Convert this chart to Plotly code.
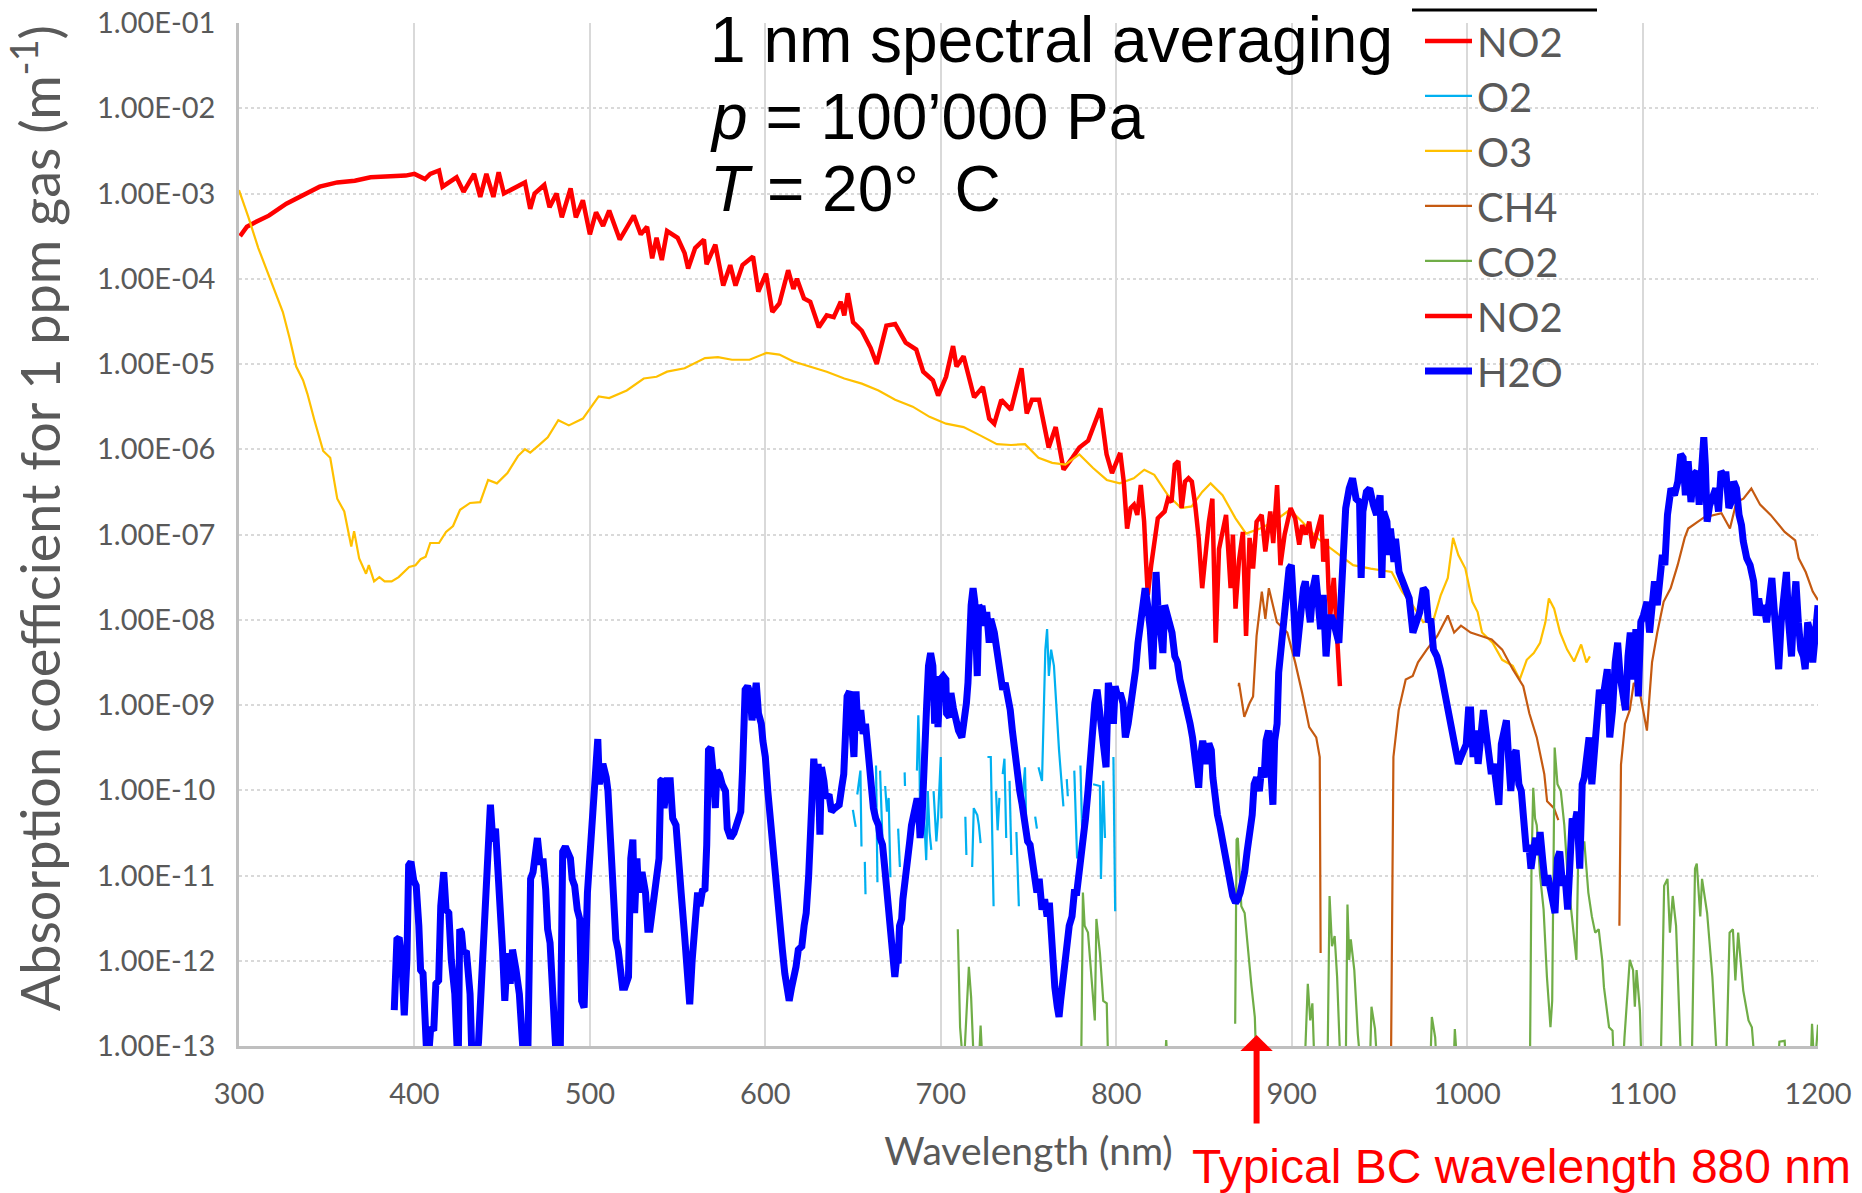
import plotly.graph_objects as go

# wavelength (nm), log10 of absorption coefficient (m^-1); None = gap in the data
no2_a = [(300.6, -3.50), (304.5, -3.39), (309, -3.34), (317, -3.26), (327, -3.12), (336.5, -3.02),
         (346, -2.92), (356, -2.87), (366, -2.85), (375, -2.81), (385, -2.80), (395, -2.79),
         (400, -2.77), (406, -2.83), (409, -2.77), (414, -2.73), (416, -2.92), (424, -2.81),
         (428, -2.98), (434, -2.77), (437.5, -3.04), (441, -2.77), (445, -3.04), (448, -2.75),
         (451, -3.00), (457, -2.94), (463, -2.87), (466, -3.18), (468.5, -3.00), (474, -2.90),
         (477, -3.16), (481, -3.00), (484, -3.28), (489, -2.94), (492, -3.28), (496, -3.08),
         (500, -3.48), (503.5, -3.22), (507.5, -3.38), (511, -3.20), (517, -3.54), (525, -3.26),
         (529, -3.48), (532.6, -3.39), (535.5, -3.76), (538, -3.52), (541, -3.78), (544, -3.44),
         (550, -3.52), (554, -3.70), (556, -3.88), (560, -3.64), (565, -3.54), (566.5, -3.83),
         (571.5, -3.60), (576, -4.08), (580, -3.84), (583, -4.08), (587, -3.84), (593, -3.74),
         (596, -4.15), (600.4, -3.94), (604, -4.39), (608, -4.29), (613, -3.90), (616, -4.12),
         (618, -4.00), (622, -4.23), (625.6, -4.27), (630.5, -4.57), (635, -4.43), (639, -4.45),
         (643, -4.27), (645, -4.43), (647, -4.17), (650, -4.51), (655, -4.61), (660, -4.81),
         (663.5, -5.00), (669, -4.55), (674, -4.53), (680, -4.75), (686, -4.83), (690, -5.09),
         (695.5, -5.19), (698.5, -5.37), (703, -5.15), (707, -4.79), (709, -5.03), (713, -4.91),
         (719, -5.39), (724, -5.27), (727.6, -5.64), (730.5, -5.70), (734.5, -5.42), (740, -5.54),
         (746, -5.05), (749, -5.58), (752, -5.42), (756, -5.42), (761.5, -5.98), (765.5, -5.74),
         (770, -6.24), (775, -6.10), (779, -5.98), (784, -5.90), (791, -5.52), (794.5, -6.06),
         (797.6, -6.28), (802.3, -6.04)]

no2_b = [(802.3, -6.04), (804.3, -6.38), (806.2, -6.93), (808.2, -6.69), (810.1, -6.65), (812, -6.77),
         (814, -6.42), (815.9, -6.85), (817, -7.32), (818, -7.71), (820, -7.35), (822, -7.05),
         (823.7, -6.81), (825.6, -6.77), (827.6, -6.73), (829.5, -6.58), (831.5, -6.62), (833.4, -6.18),
         (835.4, -6.14), (837.3, -6.69), (839.2, -6.38), (841.2, -6.34), (843.1, -6.38), (845, -6.65),
         (847, -7.04), (849, -7.63), (851, -7.17), (852.8, -6.85), (854.8, -6.58), (856.7, -8.27),
         (858.6, -7.17), (862.6, -6.77), (865.2, -7.63), (866.5, -7.00), (868, -7.87), (870, -7.30),
         (872.2, -6.97), (874, -8.19), (876, -7.04), (878, -7.40), (880, -6.85), (882.9, -6.77),
         (885, -7.20), (887.8, -6.73), (889.5, -7.10), (891.7, -6.42), (893.6, -7.36), (896, -7.00),
         (899.4, -6.69), (902, -6.81), (904.3, -7.12), (906, -6.89), (908, -7.00), (910, -6.85),
         (912, -7.16), (914, -7.01), (917, -6.77), (918, -7.32), (920, -7.05), (921, -7.63),
         (922, -7.95), (924, -7.51), (926, -8.23), (927.5, -8.78)]

o2 = [(649.9, -10.23), (651.5, -10.43), None, (652.4, -10.05), (654.2, -9.77), (654.8, -10.66), None,
      (656.7, -10.84), (657.1, -11.22), None, (663.1, -9.71), (663.9, -11.08), None,
      (665.4, -9.77), (666.4, -10.41), (667.4, -10.96), None,
      (668.3, -9.95), (669.3, -10.25), (670.3, -10.09), (671.3, -11.02), None,
      (675.7, -10.45), (676.7, -10.90), None, (679.4, -9.79), (679.6, -9.95), None,
      (686.4, -9.77), (687.2, -9.12), (687.8, -9.53), (688.3, -10.49), None,
      (689.3, -9.79), (691.7, -10.82), (692.6, -10.01), (693.6, -10.49), (694.6, -10.70), None,
      (695.9, -10.01), (697.5, -10.60), (698.4, -10.33), (700.0, -9.61), (700.4, -10.33), None,
      (714.0, -10.31), (714.6, -10.76), None,
      (717.9, -10.90), (718.8, -10.21), (720.8, -10.29), (721.7, -10.41), (722.7, -10.62), None,
      (726.6, -9.61), (728.5, -9.61), (730.1, -11.36), None,
      (731.5, -10.01), (732.4, -10.47), (733.4, -10.09), None,
      (735.3, -9.81), (736.3, -9.63), (737.3, -10.56), None, (739.2, -9.89), (740.2, -10.76), None,
      (743.1, -10.49), (744.5, -11.36), None, (746.0, -10.25), (748.0, -9.73), (748.9, -10.60), None,
      (753.8, -10.31), (754.8, -10.45), None,
      (755.7, -9.73), (757.7, -9.89), (759.6, -8.35), (760.6, -8.11), (761.6, -8.66), (762.9, -8.35),
      (764.5, -8.54), (767.4, -9.53), (769.9, -10.19), None,
      (771.8, -9.87), (772.4, -10.07), None, (776.1, -9.77), (777.7, -10.80), None,
      (779.6, -9.71), (781.0, -10.80), None,
      (786.8, -9.93), (790.7, -9.95), (791.3, -11.04), (792.6, -9.89), (793.6, -10.56), None,
      (798.4, -9.61), (799.4, -11.42)]

o3 = [(300, -2.96), (305.4, -3.28), (311, -3.64), (317, -3.96), (321, -4.19), (325, -4.39),
      (329, -4.71), (332.6, -5.03), (336.5, -5.19), (339, -5.35), (343, -5.66), (348, -6.02),
      (352, -6.10), (356, -6.58), (360, -6.73), (364, -7.14), (365.6, -6.96), (368.5, -7.28),
      (372.4, -7.46), (374, -7.36), (377, -7.55), (380, -7.50), (383, -7.55), (387, -7.55),
      (391, -7.50), (394, -7.44), (397, -7.38), (400.6, -7.36), (403.5, -7.29), (406.4, -7.26),
      (409, -7.10), (414, -7.10), (418, -6.97), (422, -6.90), (426, -6.71), (431.7, -6.63),
      (437.5, -6.62), (442, -6.36), (447, -6.40), (453, -6.28), (459, -6.08), (463, -6.00),
      (466, -6.04), (470.5, -5.96), (476, -5.86), (482, -5.66), (488, -5.72), (496, -5.64),
      (500.6, -5.50), (505, -5.38), (511, -5.40), (521, -5.31), (530.7, -5.17), (538, -5.15),
      (544, -5.09), (554, -5.05), (565.6, -4.93), (573, -4.92), (581, -4.95), (591, -4.95),
      (600.6, -4.87), (608, -4.89), (616, -4.97), (625.6, -5.03), (635, -5.09), (645, -5.17),
      (655, -5.23), (664.5, -5.31), (674, -5.42), (684, -5.50), (693.6, -5.62), (703, -5.70),
      (713, -5.74), (722.7, -5.84), (732, -5.94), (740, -5.95), (748, -5.94), (755.7, -6.10),
      (763.5, -6.16), (771, -6.18), (779, -6.06), (786.8, -6.22), (794.6, -6.36), (802, -6.40),
      (810, -6.34), (816, -6.24), (821.7, -6.30), (829.5, -6.54), (837, -6.69), (843, -6.67),
      (849, -6.50), (853.8, -6.40), (860.6, -6.54), (868, -6.81), (874, -6.99), (882, -6.93),
      (889.7, -6.85), (899, -6.71), (906, -6.85), (915, -7.05), (925, -7.20), (935, -7.36),
      (945, -7.40), (957, -7.44), (963, -7.67), (969, -7.83), (975, -8.03), (981, -7.99),
      (985, -7.71), (989, -7.51), (992, -7.04), (995, -7.24), (999, -7.40), (1003, -7.79),
      (1006, -7.91), (1008.5, -8.15), (1014.5, -8.27), (1020, -8.47), (1026, -8.54), (1030, -8.70),
      (1034, -8.47), (1038, -8.39), (1041.6, -8.27), (1044.6, -8.03), (1046.6, -7.75), (1049.6, -7.87),
      (1053, -8.15), (1057, -8.35), (1061, -8.49), (1065, -8.29), (1068, -8.50), (1070, -8.43)]

ch4 = [(869.8, -8.78), (870, -8.74), (873, -9.14), (876, -8.98), (878, -8.90), (880, -8.19),
       (883, -7.67), (885, -7.99), (887, -7.63), (891.6, -8.03), (897.5, -8.15), (902, -8.50),
       (906, -8.86), (910, -9.26), (914, -9.38), (916, -9.61), (916.5, -11.91), None,
       (956.5, -13.5), (958, -9.61), (961, -9.06), (965, -8.70), (969, -8.66), (972, -8.50),
       (977, -8.35), (983, -8.19), (989, -7.95), (992.6, -8.15), (996.5, -8.07), (1002, -8.15),
       (1008, -8.19), (1014, -8.23), (1020, -8.35), (1026, -8.58), (1032, -8.78), (1035.5, -9.10),
       (1039.7, -9.38), (1042, -9.61), (1044, -9.81), (1045.6, -10.13), (1049.5, -10.21),
       (1052, -10.35), None,
       (1086.8, -11.59), (1087.7, -9.70), (1090, -9.22), (1092.7, -9.06), (1095, -8.74),
       (1098.5, -8.86), (1102.5, -9.30), (1105.4, -8.50), (1108.4, -8.15), (1112, -7.79),
       (1116, -7.63), (1120, -7.36), (1124, -7.04), (1126, -6.93), (1135, -6.80), (1145, -6.75),
       (1149.8, -6.93), (1153.5, -6.62), (1157.5, -6.58), (1162, -6.46), (1167, -6.65),
       (1173, -6.77), (1181, -6.97), (1187, -7.07), (1189, -7.28), (1193, -7.44), (1197, -7.67),
       (1200, -7.77)]

co2 = [(709.7, -11.63), (711, -12.78), (713, -13.3), (715, -12.5), (716, -12.07), (717.3, -12.43),
       (719, -13.3), (721.5, -13.3), (722.7, -12.76), (724, -13.3), (780, -13.3),
       (781, -11.20), (782, -11.59), (783.9, -11.67), (785.8, -12.19), (787.8, -12.70),
       (788.7, -11.51), (790.7, -11.91), (792.6, -12.47), (794.6, -12.50), (795.5, -13.3),
       (827.5, -13.3), (828.5, -12.93), (829.5, -13.3), None,
       (867.8, -12.74), (868.6, -10.58), (869.3, -10.56), (871.3, -11.36), (873.2, -11.44),
       (875.1, -11.91), (877.1, -12.30), (879, -12.66), (880, -13.3),
       (907.3, -13.3), (909.2, -12.27), (910.6, -12.70), (911.8, -12.50), (913.1, -13.3),
       (920.4, -13.3), (921.6, -11.24), (923, -11.83), (924.5, -11.71), (925.9, -12.19), (927.9, -13.3),
       (930.8, -13.3), (931.8, -11.34), (932.8, -11.99), (933.7, -11.75), (935.7, -12.11),
       (937.7, -12.86), (939.6, -13.3), (944.5, -13.3), (945.5, -12.54), (947.5, -12.80), (949, -13.3),
       (978.9, -13.3), (979.9, -12.66), (981.8, -12.90), (982.8, -13.3),
       (992.2, -13.3), (993, -12.80), (994.6, -13.3),
       (1035.8, -13.3), (1036.7, -10.88), (1037.7, -9.97), (1038.7, -10.33), (1039.7, -10.41),
       (1041.6, -11.00), (1043.6, -11.40), (1045.5, -12.19), (1047.5, -12.78), (1048.5, -12.47),
       (1049.1, -10.80), (1049.9, -9.50), (1051.5, -9.93), (1053.4, -10.01), (1055.4, -10.41),
       (1057.3, -11.00), (1059.3, -11.40), (1062.3, -11.99), (1063.2, -10.92), (1066.8, -10.60),
       (1069.1, -11.20), (1071.1, -11.48), (1073, -11.67), (1075, -11.63), (1077, -11.99),
       (1078, -12.31), (1080.9, -12.78), (1082.9, -12.82), (1083.8, -13.3),
       (1088.7, -13.3), (1089.7, -12.90), (1092.7, -11.99), (1094.6, -12.11), (1095.6, -12.54),
       (1096.6, -12.11), (1098.5, -12.59), (1099.5, -13.3),
       (1110.3, -13.3), (1112.3, -11.12), (1114.2, -11.04), (1115.6, -11.67), (1117.2, -11.24),
       (1119.1, -11.59), (1122.1, -13.3),
       (1128, -13.3), (1129.9, -10.92), (1130.9, -10.86), (1132.9, -11.48), (1133.9, -11.04),
       (1136.8, -11.44), (1139.8, -12.19), (1142.7, -13.3),
       (1147.6, -13.3), (1149.6, -11.67), (1151.5, -11.63), (1152.9, -12.23), (1154.5, -11.67),
       (1157.4, -12.35), (1160.4, -12.70), (1162.3, -12.78), (1164.3, -13.3),
       (1177, -13.3), (1178, -12.95), (1181, -12.94), (1182, -13.3),
       (1195.7, -13.3), (1196.6, -12.74), (1198, -13.3), (1200, -12.75)]

h2o = [(388.5, -12.58), (390, -11.75), (391.3, -11.73), (392.8, -11.99), (394.2, -12.64), (395.7, -11.99),
       (396.7, -10.88), (398, -10.84), (399.6, -11.06), (401, -11.12), (402.5, -11.59), (403.5, -12.11),
       (404.9, -12.15), (406, -12.86), (407.4, -13.3), (409.3, -12.78), (411, -12.82), (412.2, -12.27),
       (413.8, -12.23), (415, -11.36), (416.7, -10.96), (418, -11.40), (419.6, -11.44), (421, -11.99),
       (423, -12.39), (424.9, -13.3), (425.8, -11.63), (426.8, -11.67), (427.8, -11.89), (429.7, -11.91),
       (431.7, -12.39), (433, -13.3), (434.6, -13.3), (436.5, -12.96), (438.4, -12.19), (439.8, -11.59),
       (441.4, -10.80), (442.3, -10.21), (443.3, -10.17), (444.7, -10.60), (446.2, -10.45), (447.2, -10.80),
       (448.5, -11.20), (450.1, -11.83), (451.5, -12.47), (453, -11.91), (454.6, -12.27), (455.9, -11.87),
       (457.9, -12.11), (459.8, -12.39), (461.7, -13.0), (463.1, -13.3), (464.7, -13.0), (466.2, -11.04),
       (467.6, -10.96), (469, -10.60), (470.1, -10.56), (471.5, -10.84), (473.4, -10.84), (474.8, -11.16),
       (475.9, -11.63), (477.3, -11.79), (479.2, -12.39), (481.2, -13.3), (483.1, -13.1), (484.5, -10.72),
       (486, -10.66), (487.6, -10.76), (488.9, -10.80), (489.9, -11.04), (491.3, -11.12), (492.8, -11.40),
       (494.2, -11.51), (495.3, -12.47), (496.7, -12.55), (498.6, -11.20), (500.6, -10.60), (501.9, -10.21),
       (503.1, -9.61), (504.5, -9.40), (505.4, -9.93), (507.4, -9.69), (509.3, -9.85), (510.3, -10.01),
       (511.8, -10.60), (513.2, -11.20), (514.8, -11.75), (516.1, -11.87), (517.1, -12.07), (518.6, -12.31),
       (520, -12.31), (522, -12.19), (523.3, -10.80), (524.5, -10.58), (525.5, -11.44), (526.8, -10.80),
       (527.8, -11.20), (529.7, -10.96), (531.7, -11.20), (533, -11.63), (534.2, -11.63), (535.5, -11.40),
       (537.5, -11.20), (539.4, -10.80), (540.4, -9.89), (541.4, -9.87), (542.3, -10.21), (543.9, -9.89),
       (545.8, -9.89), (547.2, -10.33), (549.1, -10.41), (550.1, -10.80), (552, -11.20), (554, -11.71),
       (555.9, -12.19), (556.9, -12.51), (558.3, -11.99), (559.8, -11.48), (561.4, -11.20), (562.7, -11.36),
       (564.1, -11.18), (565.6, -11.16), (566.6, -10.64), (567.6, -9.53), (568.9, -9.50), (570.5, -9.85),
       (571.5, -10.21), (572.4, -9.77), (573.8, -9.81), (575.4, -9.93), (577.3, -10.01), (578.3, -10.45),
       (580.2, -10.56), (582.1, -10.50), (584.1, -10.33), (586, -10.25), (587, -9.77), (588.5, -8.82),
       (589.9, -8.78), (591.3, -8.86), (592.4, -9.18), (593.8, -8.78), (594.8, -8.74), (596.1, -9.10),
       (597.7, -9.22), (598.6, -9.42), (600, -9.61), (601.4, -10.01), (602.7, -10.33), (603.9, -10.64),
       (605.2, -11.0), (606.6, -11.32), (608.2, -11.59), (609.7, -11.87), (611.1, -12.15), (612.4, -12.35),
       (613.6, -12.47), (615, -12.31), (615.9, -12.23), (617.5, -12.07), (618.8, -11.87), (620.8, -11.83),
       (622.1, -11.59), (623.3, -11.44), (624.7, -11.0), (625.6, -10.41), (626.6, -9.85), (627.6, -9.63),
       (628.9, -9.93), (630.1, -9.69), (631.1, -10.52), (632, -9.73), (633.4, -9.89), (634.4, -10.09),
       (636.3, -10.05), (637.7, -10.25), (639.6, -10.21), (642.1, -10.17), (643.5, -9.97), (644.7, -9.81),
       (645.6, -9.38), (646.6, -8.90), (648, -8.84), (649.3, -9.22), (650.5, -9.61), (651.7, -8.84),
       (652.8, -9.30), (654.4, -9.06), (655.7, -9.34), (657.1, -9.22), (658.6, -9.61), (660.2, -9.85),
       (661.6, -10.21), (662.9, -10.33), (664.5, -10.41), (665.4, -10.56), (666.8, -10.64), (668.3, -10.96),
       (669.9, -11.36), (671.3, -11.48), (672.2, -11.79), (673.2, -12.07), (673.8, -12.19), (674.8, -11.99),
       (675.7, -12.03), (676.5, -11.59), (677.7, -11.51), (678.4, -11.28), (679.6, -11.0), (681, -10.80),
       (682.3, -10.60), (683.3, -10.41), (684.9, -10.25), (686.2, -10.13), (687.2, -10.13), (688.2, -10.56),
       (689.3, -10.33), (690.7, -9.81), (692, -8.98), (693, -8.54), (694.2, -8.39), (695.5, -8.54),
       (696.5, -9.22), (697.5, -8.66), (698.4, -9.26), (699.8, -8.70), (701.4, -8.66), (702.9, -8.70),
       (703.3, -9.10), (704.9, -9.14), (705.8, -8.86), (707.2, -9.04), (708.7, -9.22), (710.1, -9.30),
       (712, -9.38), (713.4, -9.22), (714.6, -8.98), (715.5, -8.74), (716.5, -8.15), (717.3, -7.83),
       (718.4, -7.63), (719.4, -7.79), (720.8, -8.66), (721.7, -7.83), (722.7, -7.87), (723.7, -7.87),
       (725, -8.07), (726.2, -7.91), (727.6, -8.27), (728.5, -7.99), (730.5, -8.15), (731.5, -8.27),
       (732.4, -8.50), (734, -8.58), (735.3, -8.82), (736.7, -8.74), (738.3, -8.90), (739.6, -9.06),
       (740.8, -9.30), (742.1, -9.53), (743.5, -9.85), (745, -10.01), (746.4, -10.17), (748, -10.41),
       (749.5, -10.60), (750.9, -10.64), (751.8, -10.80), (753.4, -11.0), (754.8, -11.20), (756.1, -11.04),
       (757.7, -11.40), (759.2, -11.28), (760.6, -11.48), (761.9, -11.32), (763.1, -11.79), (764.1, -11.99),
       (765, -12.31), (766.4, -12.54), (767.4, -12.66), (768.3, -12.47), (769.3, -12.31), (770.3, -11.99),
       (771.3, -11.91), (772.2, -11.75), (773.2, -11.59), (774.8, -11.48), (776.1, -11.20), (777.5, -11.20),
       (778.6, -11.04), (780, -10.80), (781, -10.60), (782.5, -10.33), (783.9, -10.01), (784.9, -9.69),
       (786.4, -9.22), (787.8, -8.98), (789.1, -8.82), (790.3, -9.06), (791.7, -9.18), (793, -9.61),
       (794.2, -9.73), (795.5, -8.74), (796.9, -8.90), (798.4, -9.22), (799.4, -8.78), (800.8, -8.90),
       (802.3, -8.86), (803.9, -8.98), (805.2, -9.38), (806.8, -9.22), (808.2, -9.02), (809.5, -8.86),
       (811.1, -8.58), (812.4, -8.27), (814, -7.99), (815.5, -7.75), (816.5, -7.63), (817.9, -7.83),
       (819.4, -8.11), (820.8, -8.58), (821.7, -8.03), (822.7, -7.44), (823.7, -7.83), (825, -8.19),
       (826.6, -8.39), (827.6, -7.83), (829.1, -7.95), (830.5, -8.03), (831.8, -8.15), (833.4, -8.43),
       (834.9, -8.50), (836.3, -8.70), (837.7, -8.82), (839.2, -8.90), (840.8, -9.06), (842.1, -9.22),
       (843.5, -9.38), (845, -9.61), (846, -9.85), (847, -9.97), (848, -9.61), (849.3, -9.42),
       (850.5, -9.57), (851.7, -9.69), (852.8, -9.45), (854.2, -9.53), (855.1, -9.85), (856.3, -10.13),
       (857.7, -10.29), (859, -10.41), (860.6, -10.60), (862.1, -10.80), (863.5, -11.0), (864.9, -11.12),
       (866.4, -11.24), (868, -11.32), (869.3, -11.28), (870.7, -11.20), (871.8, -11.12), (873.2, -10.96),
       (874.6, -10.72), (876.1, -10.49), (877.5, -10.29), (878.6, -9.93), (880, -9.85), (881.6, -10.01),
       (882.9, -9.73), (884.3, -9.85), (885.4, -9.42), (886.8, -9.30), (888.2, -10.09), (889.3, -10.17),
       (890.3, -9.42), (891.7, -9.22), (892.6, -8.62), (894, -8.35), (895.5, -8.03), (897.1, -7.63),
       (898.5, -7.40), (899.8, -7.36), (900.9, -7.83), (901.4, -8.15), (902.7, -8.43), (903.9, -8.19),
       (905.3, -7.87), (906.7, -7.63), (907.8, -7.55), (909.2, -7.83), (910.6, -8.03), (912.2, -7.63),
       (913.7, -7.48), (915.1, -7.79), (916.5, -8.11), (918, -7.71), (919.6, -8.43), (921, -8.03),
       (922.4, -7.95), (923.9, -8.03), (925.5, -8.19), (926.9, -8.27), (927.9, -7.87), (928.8, -7.36),
       (929.8, -6.92), (930.8, -6.69), (932.8, -6.46), (934.7, -6.34), (936.7, -6.58), (938.7, -6.62),
       (939.6, -7.51), (940.6, -6.73), (942.6, -6.50), (944.5, -6.46), (946.5, -6.65), (948.4, -6.77),
       (950.4, -6.54), (951.4, -7.51), (952.4, -6.73), (954.3, -6.85), (955.3, -7.24), (956.3, -6.93),
       (958.3, -7.32), (959.2, -7.05), (961.2, -7.44), (964.1, -7.59), (967, -7.75), (969.1, -8.15),
       (971, -8.03), (973, -7.91), (975, -7.63), (976.5, -7.67), (977.9, -8.03), (979.3, -7.99),
       (980.8, -8.35), (982.8, -8.43), (984.7, -8.58), (986.3, -8.74), (987.7, -8.90), (989, -9.10),
       (990.6, -9.22), (992.2, -9.38), (993.6, -9.53), (995, -9.69), (996.5, -9.61), (998.1, -9.53),
       (999.5, -9.46), (1000.8, -9.06), (1002, -9.06), (1003.4, -9.61), (1004.8, -9.30), (1006.3, -9.69),
       (1007.9, -9.38), (1009.3, -9.06), (1010.7, -9.30), (1012.2, -9.61), (1013.8, -9.81), (1015.2, -9.69),
       (1016.7, -9.93), (1018.1, -10.17), (1019.5, -9.46), (1021, -9.30), (1022.4, -9.18), (1023.6, -9.61),
       (1024.9, -10.01), (1026.3, -9.61), (1027.9, -9.53), (1029.5, -9.93), (1030.9, -10.01), (1032.2, -10.33),
       (1033.8, -10.72), (1035.2, -10.64), (1036.4, -10.92), (1037.7, -10.72), (1039.1, -10.56), (1040.5, -10.76),
       (1041.6, -10.49), (1043.2, -10.84), (1044.6, -11.12), (1046, -11.0), (1047.5, -11.20), (1048.9, -11.36),
       (1050.1, -11.44), (1051.5, -10.80), (1052.8, -10.72), (1054.4, -11.12), (1055.8, -11.0), (1057.3, -11.40),
       (1058.7, -10.80), (1059.9, -10.33), (1061.3, -10.41), (1062.6, -10.25), (1064.2, -10.92), (1065.6, -9.93),
       (1066.8, -9.85), (1068.1, -9.53), (1069.5, -9.38), (1071.1, -9.93), (1072.5, -9.61), (1074, -9.06),
       (1075.4, -8.82), (1077, -8.98), (1078.5, -8.70), (1079.9, -8.58), (1081.3, -9.38), (1082.9, -9.06),
       (1084.4, -8.50), (1085.8, -8.27), (1087.2, -8.66), (1088.7, -8.90), (1090.3, -9.06), (1091.7, -8.43),
       (1093, -8.15), (1094.6, -8.70), (1096.2, -8.11), (1097.6, -8.90), (1099, -8.03), (1100.5, -7.95),
       (1102.5, -7.79), (1104, -8.15), (1105.4, -7.71), (1106.8, -7.55), (1108.4, -7.83), (1109.9, -7.59),
       (1111.3, -7.24), (1112.7, -7.36), (1114.2, -6.77), (1116.2, -6.46), (1118.2, -6.54), (1120.1, -6.38),
       (1121.7, -6.06), (1123.1, -6.10), (1124.4, -6.54), (1126, -6.14), (1127.6, -6.62), (1129, -6.30),
       (1130.9, -6.26), (1132.3, -6.65), (1133.5, -6.14), (1134.9, -5.86), (1135.8, -6.18), (1136.8, -6.85),
       (1138.2, -6.66), (1139.8, -6.54), (1141.7, -6.46), (1143.3, -6.73), (1144.7, -6.26), (1146.1, -6.30),
       (1147.6, -6.30), (1149.2, -6.69), (1150.5, -6.62), (1151.9, -6.38), (1153.5, -6.46), (1155, -6.77),
       (1156.4, -6.89), (1157.4, -7.08), (1159.4, -7.28), (1161.3, -7.36), (1163.3, -7.55), (1164.9, -7.95),
       (1166.2, -7.75), (1167.6, -7.95), (1169.2, -7.83), (1170.7, -8.03), (1172.1, -7.79), (1173.7, -7.51),
       (1175, -7.87), (1176.6, -8.23), (1177.6, -8.58), (1179, -8.03), (1180.4, -7.71), (1182, -7.44),
       (1183.3, -8.03), (1184.9, -8.43), (1186.3, -7.83), (1187.4, -7.55), (1188.8, -8.03), (1190.2, -8.35),
       (1191.7, -8.43), (1192.7, -8.58), (1194.1, -8.03), (1195.7, -8.15), (1197, -8.50), (1198.6, -8.03),
       (1200, -7.83)]

y_exponents = list(range(-1, -14, -1))
y_ticktext = ["1.00E-%02d" % (-e) for e in y_exponents]

grey_txt = "#595959"
calibri = "Lato, 'Open Sans', sans-serif"
arial = "'Liberation Sans', Arial, sans-serif"

# the page puts the figure 8 px in from the top-left corner of the window
OFF = 8
# plot area in window pixels (left, right, top, bottom)
L, R, T, B = 239, 1818, 22.6, 1046


def px_x(px):
    return (px - L) / (R - L)


def px_y(py):
    return 1 - (py - T) / (B - T)


def split(pts):
    xs, ys = [], []
    for p in pts:
        if p is None:
            xs.append(None)
            ys.append(None)
        else:
            xs.append(p[0])
            ys.append(10 ** p[1])
    return xs, ys


series = [
    ("NO2", no2_a, "#FF0000", 4.5),
    ("O2", o2, "#00B0F0", 2.2),
    ("O3", o3, "#FFC000", 2.2),
    ("CH4", ch4, "#C55A11", 2.2),
    ("CO2", co2, "#70AD47", 2.2),
    ("NO2", no2_b, "#FF0000", 4.5),
    ("H2O", h2o, "#0000FF", 7),
]

fig = go.Figure()
for name, pts, color, w in series:
    xs, ys = split(pts)
    fig.add_trace(go.Scatter(x=xs, y=ys, name=name, mode="lines",
                             line=dict(color=color, width=w), connectgaps=False))

fig.update_layout(
    width=1862 - OFF, height=1193 - OFF,
    margin=dict(l=L - OFF, r=1862 - R, t=T - OFF, b=1193 - B, autoexpand=False),
    paper_bgcolor="white", plot_bgcolor="white",
    showlegend=True,
    legend=dict(x=px_x(1420), xanchor="left", y=px_y(8), yanchor="top",
                bgcolor="rgba(0,0,0,0)", font=dict(family=calibri, size=40, color=grey_txt),
                itemwidth=47, tracegroupgap=0),
)

fig.update_xaxes(
    range=[300, 1200], tick0=300, dtick=100, automargin=False,
    showgrid=True, gridcolor="#D9D9D9", gridwidth=2,
    showline=True, linecolor="#BFBFBF", linewidth=2.5,
    ticks="", zeroline=False, ticklabelstandoff=20, ticklabeloverflow="allow",
    tickfont=dict(family=calibri, size=29, color=grey_txt),
    title=dict(text="Wavelength (nm)", font=dict(family=calibri, size=39, color=grey_txt), standoff=30),
)
fig.update_yaxes(
    type="log", range=[-13, -1], automargin=False,
    tickvals=[10 ** e for e in y_exponents], ticktext=y_ticktext,
    showgrid=True, gridcolor="#D9D9D9", gridwidth=2, griddash="dot",
    showline=True, linecolor="#BFBFBF", linewidth=2.5,
    ticks="", zeroline=False, ticklabelstandoff=15, ticklabeloverflow="allow",
    tickfont=dict(family=calibri, size=29, color=grey_txt),
)

# y-axis title, placed a little above the axis centre as in the original
fig.add_annotation(text="Absorption coefficient for 1 ppm gas (m<sup>-1</sup>)",
                   xref="paper", yref="paper", x=px_x(37), y=px_y(518),
                   xanchor="center", yanchor="middle", textangle=-90, showarrow=False,
                   font=dict(family=calibri, size=54, color=grey_txt))

# condition text in the top part of the plot
fig.add_annotation(text="1 nm spectral averaging", xref="paper", yref="paper",
                   x=px_x(708), y=px_y(40), xanchor="left", yanchor="middle", showarrow=False,
                   font=dict(family=arial, size=64, color="black"))
fig.add_annotation(text="<i>p</i> = 100\u2019000 Pa", xref="paper", yref="paper",
                   x=px_x(708), y=px_y(117), xanchor="left", yanchor="middle", showarrow=False,
                   font=dict(family=arial, size=64, color="black"))
fig.add_annotation(text="<i>T</i> = 20\u00b0\u00a0\u00a0C", xref="paper", yref="paper",
                   x=px_x(708), y=px_y(189), xanchor="left", yanchor="middle", showarrow=False,
                   font=dict(family=arial, size=64, color="black"))

# arrow marking the typical black carbon wavelength
fig.add_annotation(x=880, y=-12.87, xref="x", yref="y", ax=0, ay=90, text="",
                   showarrow=True, arrowhead=1, arrowsize=0.9, arrowwidth=6, arrowcolor="#FF0000")
fig.add_annotation(text="Typical BC wavelength 880 nm", xref="paper", yref="paper",
                   x=px_x(1853), y=px_y(1167), xanchor="right", yanchor="middle",
                   showarrow=False,
                   font=dict(family=arial, size=48, color="#FF0000"))

# bit of the slide border visible at the top
fig.add_shape(type="line", xref="paper", yref="paper",
              x0=px_x(1412), x1=px_x(1597), y0=px_y(9.5), y1=px_y(9.5),
              line=dict(color="black", width=3))

fig.write_html("out.html")
